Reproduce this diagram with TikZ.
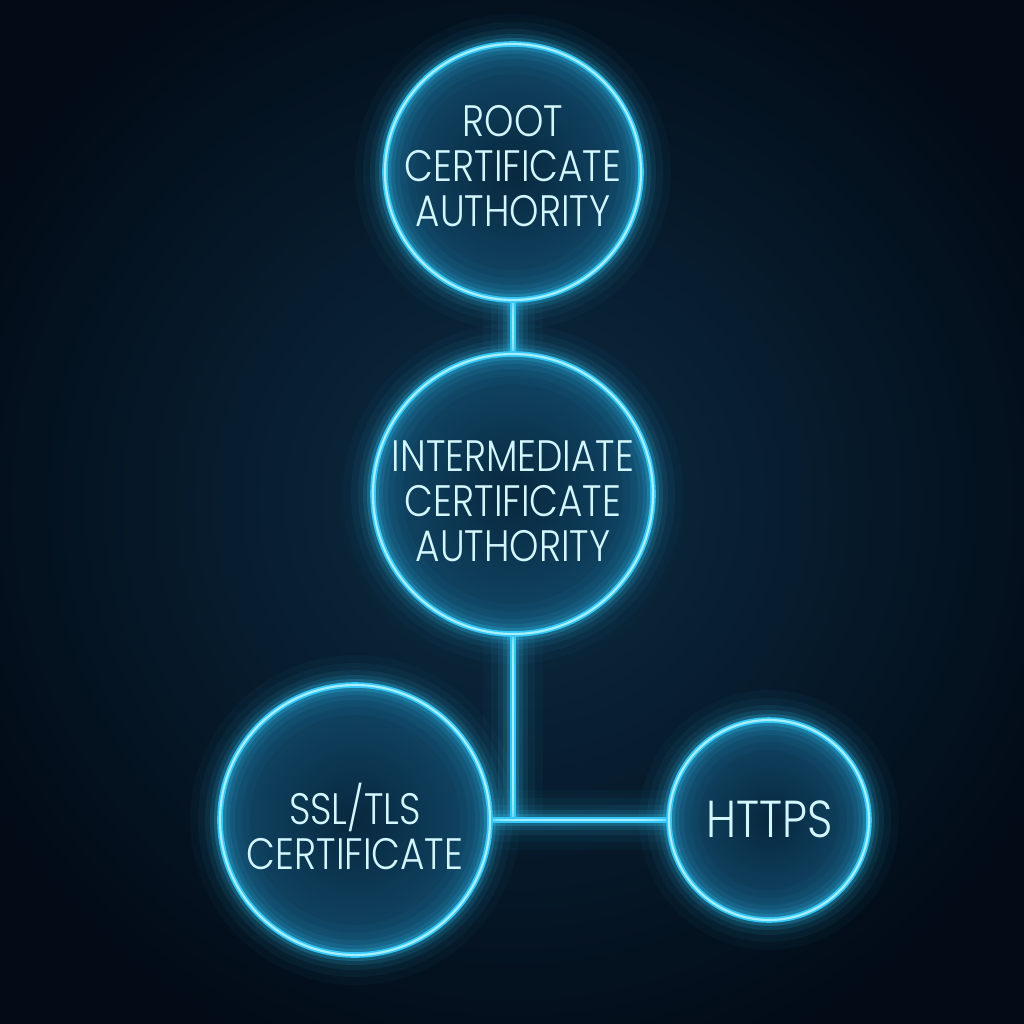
\documentclass[tikz,border=0pt]{standalone}
\usepackage{fontspec}
\newfontfamily\neonfont{Poppins Light}[FakeStretch=0.85]
\usetikzlibrary{backgrounds}
\definecolor{bgdark}{HTML}{020B16}
\definecolor{bgmid}{HTML}{0C2C44}
\definecolor{neon}{HTML}{33C8F7}
\definecolor{neoncore}{HTML}{A8EEFF}
\definecolor{neontext}{HTML}{D4F7FF}
\definecolor{innerA}{HTML}{08283E}
\definecolor{innerB}{HTML}{114868}
\newcommand{\glowpath}[1]{%
  \foreach \w/\o in {30/0.035,22/0.05,15/0.08,10/0.12,6/0.22}{%
    \draw[neon, line width=\w pt, opacity=\o] #1;}%
  \draw[neon, line width=2.8pt] #1;
  \draw[neoncore, line width=1.1pt] #1;}
\begin{document}
\begin{tikzpicture}[x=0.5pt,y=-0.5pt,
  ring/.style={circle, inner sep=0pt},
  label text/.style={text=neontext, align=center, inner sep=0pt,
    font=\neonfont\fontsize{22}{22.5}\selectfont},
  big text/.style={label text, font=\neonfont\fontsize{26}{28}\selectfont}]
\useasboundingbox (0,0) rectangle (1024,1024);
\node[ring, minimum size=128pt] (root) at (513,172) {};
\node[ring, minimum size=140pt] (inter) at (513,494) {};
\node[ring, minimum size=135pt] (ssl) at (355,820) {};
\node[ring, minimum size=100pt] (https) at (769,820) {};
\node[label text] (roottext) at (513,166) {ROOT\\CERTIFICATE\\AUTHORITY};
\node[label text] (intertext) at (513,501) {INTERMEDIATE\\CERTIFICATE\\AUTHORITY};
\node[label text] (ssltext) at (355,826) {SSL/TLS\\CERTIFICATE};
\node[big text] (httpstext) at (770,819) {HTTPS};
\coordinate (junc) at (inter |- ssl);
\begin{pgfonlayer}{background}
  \fill[bgdark] (0,0) rectangle (1024,1024);
  \shade[inner color=bgmid, outer color=bgdark] (512,500) circle[radius=300pt];
  \foreach \n/\r in {root/64pt, inter/70pt, ssl/67.5pt, https/50pt}{
    \shade[inner color=innerA, outer color=innerB] (\n.center) circle[radius=\r];
  }
  \glowpath{(root) -- (inter)}
  \glowpath{(inter) -- (junc)}
  \glowpath{(ssl) -- (https)}
  \glowpath{(root.center) circle[radius=64pt]}
  \glowpath{(inter.center) circle[radius=70pt]}
  \glowpath{(ssl.center) circle[radius=67.5pt]}
  \glowpath{(https.center) circle[radius=50pt]}
\end{pgfonlayer}
\end{tikzpicture}
\end{document}
